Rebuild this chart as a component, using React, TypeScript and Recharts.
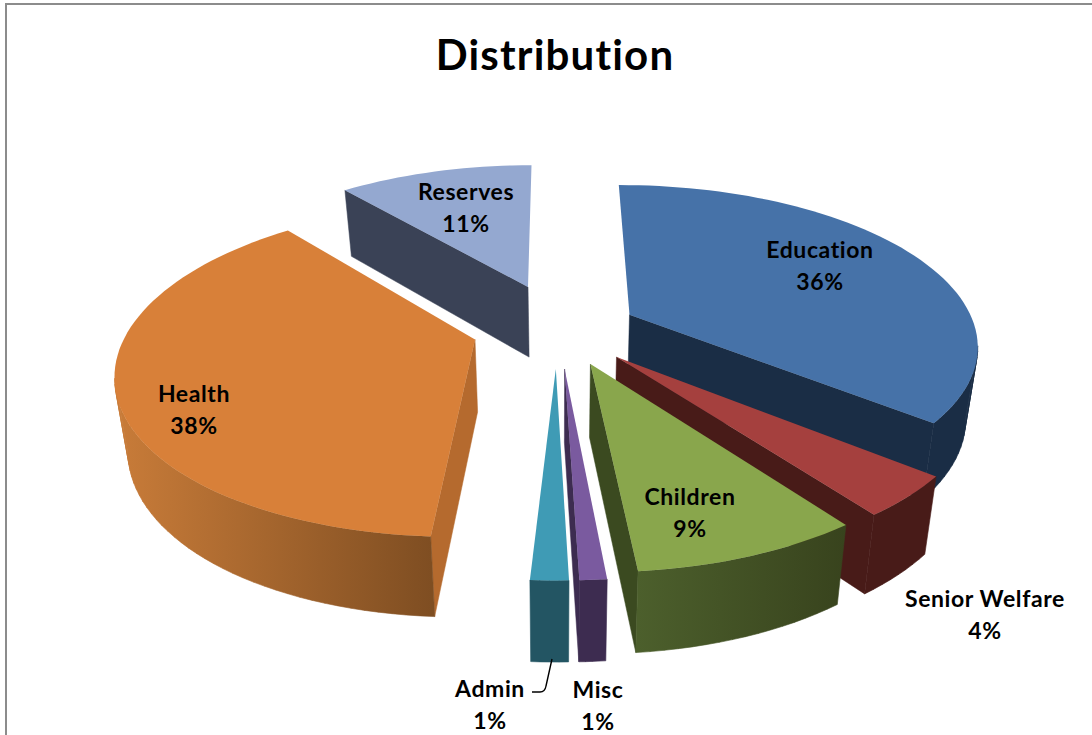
import * as React from "react";
import { Pie, PieChart } from "recharts";

const names = ["Education", "Senior Welfare", "Children", "Misc", "Admin", "Health", "Reserves"];
const shares = [36, 4, 8.6, 1, 1.4, 38, 11];
const explode = [0.2, 0.23, 0.23, 0.25, 0.25, 0.267, 0.3];
const nudgeX = [3, -5, -4, -6, -8, -1, -3];
const nudgeY = [-4, -2, -3, -4, -4, -6, -3];

const topColors = ["#4672a8", "#a5403e", "#89a64c", "#7a5a9f", "#3f9bb5", "#d88039", "#94a8d0"];
const edgeColors = ["#1a2d45", "#481b18", "#3b4a20", "#3d2c50", "#235563", "#b56a2e", "#3a4256"];
const wallLeft = ["#1a2d45", "#481b18", "#4c5f2c", "#3d2c50", "#235563", "#c97c39", "#3a4256"];
const wallRight = ["#1a2d45", "#481b18", "#38431d", "#3d2c50", "#235563", "#7f4e22", "#3a4256"];

// label anchors, set by hand like the moved labels in the original
const labelAt = [
  [820, 258],
  [985, 607],
  [690, 505],
  [598, 698],
  [490, 697],
  [194, 402],
  [466, 200],
];

const data = names.map((name, i) => ({ name, value: shares[i] }));

const title = "Distribution";
const RY = 157;
const PERSP = 0.178;
const DEPTH = 72;
const DEPTH_SHRINK = 0.97;

type Pt = { x: number; y: number };

function project(cx: number, cy: number, rx: number, X: number, Y: number, raised: boolean): Pt {
  const den = 1 - PERSP * Y;
  const x = (rx * X) / den;
  const y = (RY * Y) / den;
  if (raised) return { x: cx + x, y: cy + y };
  return { x: cx + x * DEPTH_SHRINK, y: cy + y + DEPTH / Math.sqrt(den) };
}

const toPath = (pts: Pt[]) =>
  pts.map((p, i) => `${i ? "L" : "M"}${p.x.toFixed(1)} ${p.y.toFixed(1)}`).join(" ") + " Z";

function Slice(props: any) {
  const { cx, cy, outerRadius, startAngle, endAngle, name } = props;
  const i = names.indexOf(name);
  const rad = Math.PI / 180;
  const mid = ((startAngle + endAngle) / 2) * rad;
  const ox = Math.cos(mid) * explode[i];
  const oy = -Math.sin(mid) * explode[i];
  const steps = Math.max(4, Math.ceil(Math.abs(endAngle - startAngle) / 2));
  const px = cx + nudgeX[i];
  const py = cy + nudgeY[i];

  const model: { X: number; Y: number }[] = [];
  for (let s = 0; s <= steps; s++) {
    const a = (startAngle + ((endAngle - startAngle) * s) / steps) * rad;
    model.push({ X: ox + Math.cos(a), Y: oy - Math.sin(a) });
  }
  const apex = { X: ox, Y: oy };
  const up = (m: { X: number; Y: number }) => project(px, py, outerRadius, m.X, m.Y, true);
  const down = (m: { X: number; Y: number }) => project(px, py, outerRadius, m.X, m.Y, false);

  // outer wall, only segments that face the viewer
  const wall: string[] = [];
  for (let s = 0; s < steps; s++) {
    const a = model[s];
    const b = model[s + 1];
    if (up(b).x < up(a).x) wall.push(toPath([up(a), up(b), down(b), down(a)]));
  }

  const first = model[0];
  const last = model[steps];
  const cuts: string[] = [];
  if (up(first).x < up(apex).x - 20) {
    cuts.push(toPath([up(apex), up(first), down(first), down(apex)]));
  }
  if (up(apex).x < up(last).x - 8) {
    cuts.push(toPath([up(last), up(apex), down(apex), down(last)]));
  }

  const xs = model.map((m) => up(m).x);
  const gradId = `wall-${i}`;

  return (
    <g>
      <defs>
        <linearGradient
          id={gradId}
          gradientUnits="userSpaceOnUse"
          x1={Math.min(...xs)}
          x2={Math.max(...xs)}
          y1={0}
          y2={0}
        >
          <stop offset="0%" stopColor={wallLeft[i]} />
          <stop offset="100%" stopColor={wallRight[i]} />
        </linearGradient>
      </defs>
      {cuts.map((d, k) => (
        <path key={k} d={d} fill={edgeColors[i]} stroke={edgeColors[i]} strokeWidth={0.5} />
      ))}
      <path d={wall.join(" ")} fill={`url(#${gradId})`} stroke={`url(#${gradId})`} strokeWidth={0.6} />
      <path d={toPath([up(apex), ...model.map(up)])} fill={topColors[i]} />
    </g>
  );
}

function SliceLabel(props: any) {
  const i = names.indexOf(props.name);
  const [x, y] = labelAt[i];
  return (
    <g fontFamily="Lato" fontWeight={700} fontSize={23} letterSpacing={0.6} fill="#000" textAnchor="middle">
      <text x={x} y={y}>{names[i]}</text>
      <text x={x} y={y + 32}>{`${Math.round(shares[i])}%`}</text>
      {names[i] === "Admin" ? (
        <path d="M552 659 L546 686 Q545 692 540 692 L532 692" fill="none" stroke="#000" strokeWidth={1.4} />
      ) : null}
    </g>
  );
}

export default function App() {
  return (
    <div style={{ position: "absolute", left: 0, top: 0, width: 1092, height: 735, overflow: "hidden", background: "#fff" }}>
      <div style={{ position: "absolute", left: 5, top: 3, width: 1200, height: 800, borderTop: "2px solid #8c8c8c", borderLeft: "2px solid #8c8c8c" }} />
      <div
        style={{
          position: "absolute",
          left: 0,
          width: 1110,
          top: 29,
          textAlign: "center",
          fontFamily: "Lato",
          fontWeight: 700,
          fontSize: 42,
          letterSpacing: 1.2,
          lineHeight: "50px",
          color: "#000",
        }}
      >
        {title}
      </div>
      <div style={{ position: "absolute", left: 0, top: 0 }}>
        <PieChart width={1092} height={735}>
          <Pie
            data={data}
            dataKey="value"
            nameKey="name"
            cx={560}
            cy={327}
            outerRadius={346}
            startAngle={90.3}
            endAngle={-269.7}
            stroke="none"
            shape={Slice}
            label={SliceLabel}
            labelLine={false}
            isAnimationActive={false}
          />
        </PieChart>
      </div>
    </div>
  );
}
